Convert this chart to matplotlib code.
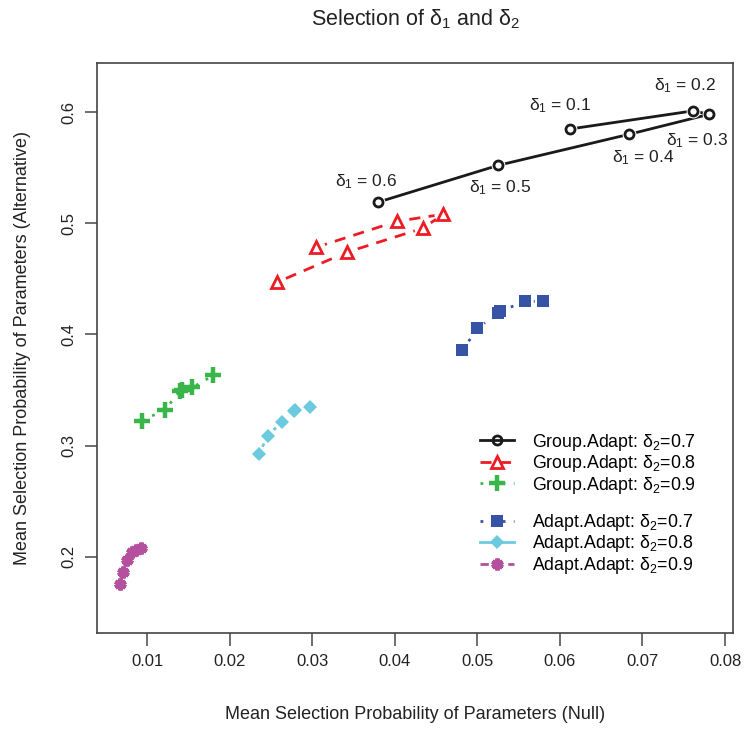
import matplotlib
matplotlib.use("Agg")
import matplotlib.pyplot as plt

plt.rcParams['font.family'] = ['Liberation Sans', 'DejaVu Sans']
plt.rcParams['mathtext.fontset'] = 'custom'
plt.rcParams['mathtext.rm'] = 'Liberation Sans'
plt.rcParams['mathtext.it'] = 'Liberation Sans'
plt.rcParams['mathtext.bf'] = 'Liberation Sans:bold'

# ---- data ----
delta1 = ["0.1", "0.2", "0.3", "0.4", "0.5", "0.6"]

ga07_x = [0.0612, 0.0761, 0.0781, 0.0684, 0.0525, 0.0380]
ga07_y = [0.5847, 0.6010, 0.5980, 0.5800, 0.5520, 0.5190]

ga08_x = [0.0305, 0.0403, 0.0459, 0.0434, 0.0342, 0.0257]
ga08_y = [0.4784, 0.5018, 0.5081, 0.4955, 0.4739, 0.4468]

ga09_x = [0.0094, 0.0122, 0.0140, 0.0142, 0.0155, 0.0180]
ga09_y = [0.3225, 0.3324, 0.3495, 0.3500, 0.3523, 0.3631]

aa07_x = [0.0482, 0.0500, 0.0525, 0.0527, 0.0558, 0.0579]
aa07_y = [0.3856, 0.4054, 0.4189, 0.4207, 0.4297, 0.4297]

aa08_x = [0.0236, 0.0246, 0.0264, 0.0278, 0.0279, 0.0297]
aa08_y = [0.2928, 0.3090, 0.3216, 0.3315, 0.3320, 0.3351]

aa09_x = [0.0067, 0.0071, 0.0076, 0.0082, 0.0087, 0.0093]
aa09_y = [0.1757, 0.1865, 0.1973, 0.2045, 0.2063, 0.2081]

labels = ["Group.Adapt: $\\delta_2$=0.7", "Group.Adapt: $\\delta_2$=0.8",
          "Group.Adapt: $\\delta_2$=0.9",
          "Adapt.Adapt: $\\delta_2$=0.7", "Adapt.Adapt: $\\delta_2$=0.8",
          "Adapt.Adapt: $\\delta_2$=0.9"]

x_ticks = [0.01, 0.02, 0.03, 0.04, 0.05, 0.06, 0.07, 0.08]
y_ticks = [0.2, 0.3, 0.4, 0.5, 0.6]

# ---- styles ----
series = [
    (ga07_x, ga07_y, dict(color='#1a1a1a', ls='-', lw=2.0, marker='o', ms=6.5, mfc='none', mew=2.0), 9),
    (ga08_x, ga08_y, dict(color='#ec1c24', ls=(0, (4, 3)), lw=2.0, marker='^', ms=8.5, mfc='none', mew=2.0), 12),
    (ga09_x, ga09_y, dict(color='#3ab54a', ls=(0, (1, 3)), lw=2.0, marker='+', ms=12, mew=3.2), 0),
    (aa07_x, aa07_y, dict(color='#3653a5', ls=(0, (1, 3)), lw=2.0, marker='s', ms=8.5, mew=0), 11),
    (aa08_x, aa08_y, dict(color='#6ccadf', ls='-', lw=2.0, marker='D', ms=7.5, mew=0), 11),
    (aa09_x, aa09_y, dict(color='#b5509f', ls=(0, (3, 2)), lw=2.0, marker=(6, 2, 0), ms=8.5, mew=3.2), 0),
]

fig = plt.figure(figsize=(7.47, 7.29), dpi=100)
ax = fig.add_axes([0.1299, 0.1317, 0.8514, 0.7819])

handles = []
for (xs, ys, st, halo) in series:
    ax.plot(xs, ys, color=st['color'], ls=st['ls'], lw=st['lw'], zorder=2)
    if halo:
        ax.plot(xs, ys, ls='none', marker='o', ms=halo, mfc='white', mec='white', zorder=3)
    ax.plot(xs, ys, ls='none', marker=st['marker'], ms=st['ms'], color=st['color'],
            mfc=st.get('mfc', st['color']), mew=st['mew'], mec=st['color'], zorder=4)
    h, = ax.plot([], [], color=st['color'], ls=st['ls'], lw=st['lw'],
                 marker=st['marker'], ms=st['ms'], mfc=st.get('mfc', st['color']),
                 mew=st['mew'], mec=st['color'])
    handles.append(h)

# annotations for delta1 on the black series
offs = [(-10, 23), (-8, 25), (-12, -26), (14, -23), (2, -22), (-12, 20)]
for x, y, d, o in zip(ga07_x, ga07_y, delta1, offs):
    ax.annotate("$\\delta_1$ = " + d, (x, y), xytext=(o[0], o[1]), textcoords='offset pixels',
                ha='center', va='center', fontsize=12.5, color='#222222')

leg_kw = dict(loc='lower left', frameon=False, fontsize=12.8, handlelength=1.9,
              handletextpad=1.0, labelspacing=0.03, numpoints=1)
leg1 = ax.legend(handles[:3], labels[:3], bbox_to_anchor=(0.577, 0.213), **leg_kw)
ax.add_artist(leg1)
leg2 = ax.legend(handles[3:], labels[3:], bbox_to_anchor=(0.577, 0.072), **leg_kw)

ax.set_xlim(0.00394, 0.08097)
ax.set_ylim(0.1315, 0.6441)
ax.set_xticks(x_ticks)
ax.set_xticklabels([f"{v:.2f}" for v in x_ticks])
ax.set_yticks(y_ticks)
ax.set_yticklabels([f"{v:.1f}" for v in y_ticks], rotation=90, va='center')
ax.tick_params(direction='out', length=9, width=1.2, color='#555555', labelsize=12,
               labelcolor='#222222', pad=6)
for s in ax.spines.values():
    s.set_color('#444444')
    s.set_linewidth(1.2)

ax.set_xlabel("Mean Selection Probability of Parameters (Null)", fontsize=13,
              color='#222222', labelpad=27)
ax.set_ylabel("Mean Selection Probability of Parameters (Alternative)", fontsize=13,
              color='#222222', labelpad=22)
ax.set_title("Selection of $\\delta_1$ and $\\delta_2$", fontsize=15.5, color='#222222', pad=27)

fig.savefig("out.png", dpi=100)
